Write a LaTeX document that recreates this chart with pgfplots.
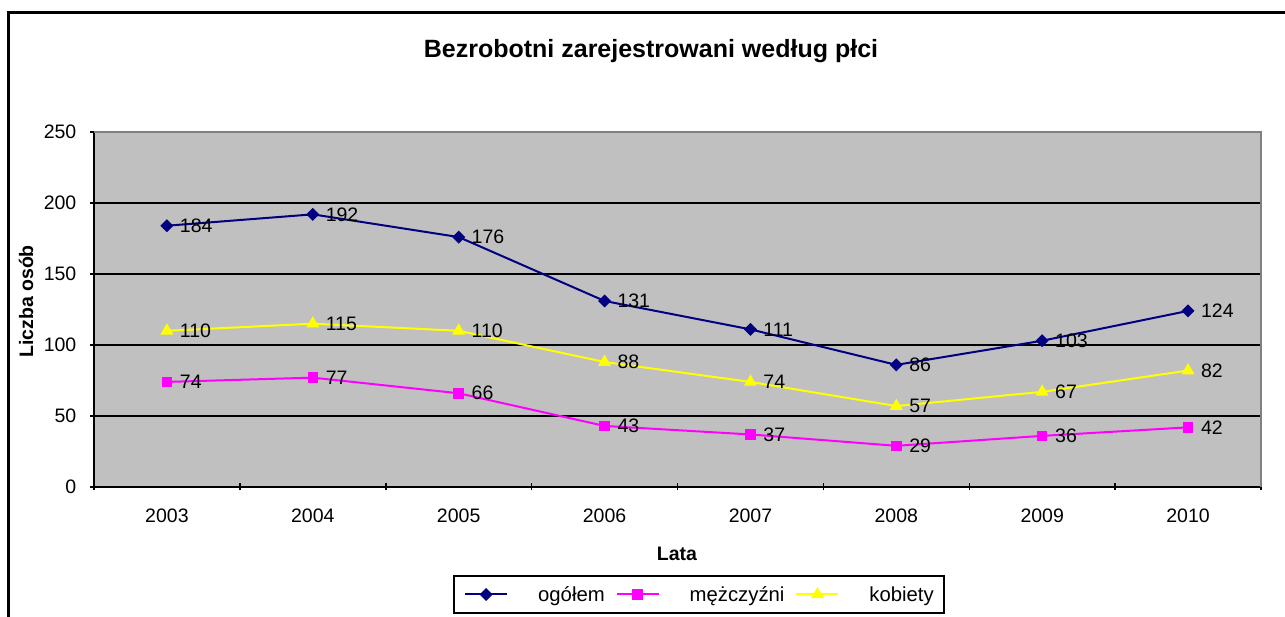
\documentclass[border=0pt]{standalone}
\usepackage{pgfplots}
\pgfplotsset{compat=1.18}
\usepackage{fontspec}
\setmainfont{Liberation Sans}
\definecolor{navyc}{HTML}{000080}
\definecolor{magc}{HTML}{FF00FF}
\definecolor{yelc}{HTML}{FFFF00}
\definecolor{bgc}{HTML}{C0C0C0}
\definecolor{brd}{HTML}{808080}
\newcommand{\tf}{\fontsize{19.5}{22}\selectfont}
\begin{document}
\begin{tikzpicture}[x=1pt,y=1pt]
\useasboundingbox (0,0) rectangle (1285,617);
\fill[white] (0,0) rectangle (1285,617);
\draw[line width=3pt] (8.5,-5) -- (8.5,604) -- (1290,604);
\node[font=\fontsize{25}{30}\selectfont\bfseries, anchor=base] at (651,559) {Bezrobotni zarejestrowani według płci};
\node[font=\tf\bfseries, anchor=base, rotate=90] at (33,315.5) {Liczba osób};
\node[font=\tf\bfseries, anchor=base] at (677,56) {Lata};
\begin{axis}[
  at={(94pt,130pt)}, anchor=south west,
  scale only axis, width=1167pt, height=355pt,
  xmin=-0.5, xmax=7.5, ymin=0, ymax=250,
  ytick={0,50,...,250},
  xtick={-0.5,0.5,...,7.5}, xticklabels={},
  extra x ticks={0,1,2,3,4,5,6,7},
  extra x tick labels={2003,2004,2005,2006,2007,2008,2009,2010},
  extra x tick style={major tick length=0pt, grid=none},
  tick align=outside, major tick length=7pt,
  tick style={black, line width=1.5pt},
  axis lines=left, axis line style={-, black, line width=2pt},
  axis background/.style={fill=bgc},
  ymajorgrids, grid style={black, line width=1.5pt},
  clip=false,
  ticklabel style={font=\tf, inner sep=0pt},
  yticklabel style={xshift=-14pt},
  xticklabel style={yshift=-22pt},
  /pgf/number format/assume math mode=true,
  nodes near coords,
  every node near coord/.append style={anchor=west, xshift=12pt, inner sep=0pt, text=black, font=\tf},
  legend image code/.code={\draw[#1,mark repeat=2,mark phase=2] plot coordinates {(0pt,0pt) (21pt,0pt) (42pt,0pt)};},
  legend columns=3,
  legend style={at={(0.5184,-0.3028)}, anchor=center, draw=black, line width=1.5pt,
    inner xsep=10pt, inner ysep=10.5pt, font=\fontsize{20.3}{22}\selectfont, nodes={inner sep=0pt},
    /tikz/every odd column/.append style={column sep=30pt},
    /tikz/every even column/.append style={column sep=11pt}},
]
\addplot[navyc, line width=2pt, mark=square*, mark size=3.6pt, mark options={rotate=45, fill=navyc, solid}]
  coordinates {(0,184) (1,192) (2,176) (3,131) (4,111) (5,86) (6,103) (7,124)};
\addplot[magc, line width=2pt, mark=square*, mark size=4.3pt, mark options={fill=magc, solid}]
  coordinates {(0,74) (1,77) (2,66) (3,43) (4,37) (5,29) (6,36) (7,42)};
\addplot[yelc, line width=2pt, mark=triangle*, mark size=5.5pt, mark options={fill=yelc, solid}]
  coordinates {(0,110) (1,115) (2,110) (3,88) (4,74) (5,57) (6,67) (7,82)};
\legend{ogółem, mężczyźni, kobiety}
\draw[brd, line width=2.5pt] (rel axis cs:0,1) -- (rel axis cs:1,1) -- (rel axis cs:1,0);
\end{axis}
\end{tikzpicture}
\end{document}
